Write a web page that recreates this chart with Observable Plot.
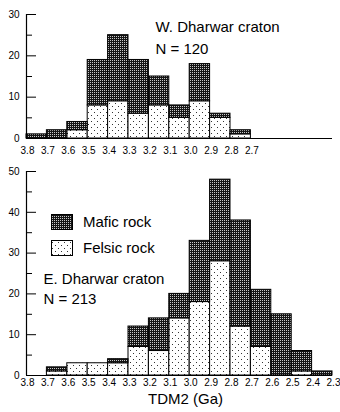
<!DOCTYPE html>
<html>
<head>
<meta charset="utf-8">
<script src="https://cdn.jsdelivr.net/npm/d3@7"></script>
<script src="https://cdn.jsdelivr.net/npm/@observablehq/plot@0.6"></script>
<style>
  html, body { margin: 0; padding: 0; background: #fff; }
  #chart { position: relative; width: 340px; height: 412px; font-family: "Liberation Sans", Arial, sans-serif; }
  #chart svg { display: block; }
</style>
</head>
<body>
<div id="chart"></div>
<script>
// ---- Data (bin left edges in Ga, counts) ----
const westBinStart = [3.8, 3.7, 3.6, 3.5, 3.4, 3.3, 3.2, 3.1, 3.0, 2.9, 2.8];
const westFelsic   = [0,   0,   2,   8,   9,   6,   8,   5,   9,   5,   1];
const westMafic    = [1,   2,   2,   11,  16,  13,  7,   3,   9,   1,   1];

const eastBinStart = [3.7, 3.6, 3.5, 3.4, 3.3, 3.2, 3.1, 3.0, 2.9, 2.8, 2.7, 2.6, 2.5, 2.4];
const eastFelsic   = [1,   3,   3,   3,   7,   6,   14,  18,  28,  12,  7,   0,   1,   0];
const eastMafic    = [1,   0,   0,   1,   5,   8,   6,   15,  20,  26,  14,  15,  5,   1];

const binWidth = 0.1;
const westTickLabels = [3.8, 3.7, 3.6, 3.5, 3.4, 3.3, 3.2, 3.1, 3.0, 2.9, 2.8, 2.7];
const eastTickLabels = [3.8, 3.7, 3.6, 3.5, 3.4, 3.3, 3.2, 3.1, 3.0, 2.9, 2.8, 2.7, 2.6, 2.5, 2.4, 2.3];
const westYMajor = [0, 10, 20, 30];
const westYMinor = [5, 15, 25];
const eastYMajor = [0, 10, 20, 30, 40, 50];
const eastYMinor = [5, 15, 25, 35, 45];

const westLabel = "W. Dharwar craton\nN = 120";
const eastLabel = "E. Dharwar craton\nN = 213";
const legendItems = ["Mafic rock", "Felsic rock"];
const xTitle = "TDM2 (Ga)";

const FONT = "Liberation Sans, Arial, sans-serif";
const xDomain = [3.8, 2.3];

function rows(starts, felsic, mafic) {
  return starts.map((s, i) => ({
    x1: s, x2: +(s - binWidth).toFixed(2),
    felsic: felsic[i], mafic: mafic[i], total: felsic[i] + mafic[i]
  }));
}

function addPatterns(svg, prefix) {
  const defs = d3.select(svg).insert("defs", ":first-child");
  const m = defs.append("pattern").attr("id", prefix + "mafic")
    .attr("patternUnits", "userSpaceOnUse").attr("width", 2).attr("height", 2);
  m.append("rect").attr("width", 2).attr("height", 2).attr("fill", "#151515");
  m.append("rect").attr("width", 1).attr("height", 1).attr("fill", "#c8c8c8");
  const f = defs.append("pattern").attr("id", prefix + "felsic")
    .attr("patternUnits", "userSpaceOnUse").attr("width", 6).attr("height", 6);
  f.append("rect").attr("width", 6).attr("height", 6).attr("fill", "#fff");
  f.append("rect").attr("x", 1).attr("y", 1).attr("width", 1).attr("height", 1).attr("fill", "#333");
  f.append("rect").attr("x", 4).attr("y", 4).attr("width", 1).attr("height", 1).attr("fill", "#333");
}

function panel({data, yDomain, yMajor, yMinor, tickLabels, height, marginTop, marginBottom, prefix, xTickPadding, extraMarks}) {
  const svg = Plot.plot({
    width: 340,
    height,
    marginLeft: 26,
    marginRight: 8,
    marginTop,
    marginBottom,
    style: {fontFamily: FONT, fontSize: "10px", color: "#000", background: "transparent"},
    x: {domain: xDomain, axis: null},
    y: {domain: yDomain, axis: null},
    marks: [
      Plot.rectY(data, {x1: "x1", x2: "x2", y1: 0, y2: "felsic",
        fill: `url(#${prefix}felsic)`, stroke: "#000", strokeWidth: 1}),
      Plot.rectY(data, {x1: "x1", x2: "x2", y1: "felsic", y2: "total",
        fill: `url(#${prefix}mafic)`, stroke: "#000", strokeWidth: 1}),
      Plot.ruleY([0], {stroke: "#000", strokeWidth: 1}),
      Plot.ruleX([xDomain[0]], {stroke: "#000", strokeWidth: 1.2}),
      Plot.axisY({ticks: yMajor, tickSize: -10, tickFormat: () => "", label: null, stroke: "#000"}),
      Plot.axisY({ticks: yMinor, tickSize: -6, tickFormat: () => "", label: null, stroke: "#000"}),
      Plot.axisY({ticks: yMajor, tickSize: 0, tickPadding: 7, tickFormat: d => String(d), label: null, fontSize: 10}),
      Plot.axisX({ticks: tickLabels, tickSize: 0, tickPadding: xTickPadding, label: null,
        tickFormat: d => d.toFixed(1), fontSize: 10, dx: 1}),
      ...extraMarks
    ]
  });
  addPatterns(svg, prefix);
  return svg;
}

const chart = document.getElementById("chart");

// ---- Top panel: W. Dharwar ----
const topSvg = panel({
  data: rows(westBinStart, westFelsic, westMafic),
  yDomain: [0, 30], yMajor: westYMajor, yMinor: westYMinor,
  tickLabels: westTickLabels,
  height: 160, marginTop: 14, marginBottom: 22, prefix: "w", xTickPadding: 8,
  extraMarks: [
    Plot.text([westLabel], {frameAnchor: "top-left", text: d => d, textAnchor: "start",
      lineAnchor: "top", dx: 129, dy: 2, fontSize: 15, lineHeight: 1.45, fill: "#000"})
  ]
});
topSvg.style.position = "absolute";
topSvg.style.left = "0px";
topSvg.style.top = "0px";
chart.appendChild(topSvg);

// ---- Bottom panel: E. Dharwar ----
const botSvg = panel({
  data: rows(eastBinStart, eastFelsic, eastMafic),
  yDomain: [0, 50], yMajor: eastYMajor, yMinor: eastYMinor,
  tickLabels: eastTickLabels,
  height: 252, marginTop: 11, marginBottom: 37, prefix: "e", xTickPadding: 3,
  extraMarks: [
    Plot.text([eastLabel], {frameAnchor: "top-left", text: d => d, textAnchor: "start",
      lineAnchor: "top", dx: 17, dy: 99, fontSize: 15, lineHeight: 1.3, fill: "#000"}),
    Plot.text([xTitle], {frameAnchor: "bottom", text: d => d, textAnchor: "middle",
      lineAnchor: "middle", dx: 6, dy: 24, fontSize: 15, fill: "#000"})
  ]
});
botSvg.style.position = "absolute";
botSvg.style.left = "0px";
botSvg.style.top = "160px";
chart.appendChild(botSvg);

// ---- Legend (inside bottom panel) ----
const lg = d3.select(botSvg).append("g")
  .attr("font-family", FONT).attr("font-size", 15).attr("text-anchor", "start");
legendItems.forEach((name, i) => {
  const y = 54 + i * 26;
  lg.append("rect").attr("x", 51.5).attr("y", y + 0.5).attr("width", 21).attr("height", 15)
    .attr("fill", `url(#e${i === 0 ? "mafic" : "felsic"})`).attr("stroke", "#000").attr("stroke-width", 1);
  lg.append("text").attr("x", 83).attr("y", y + 8).attr("dy", "0.35em")
    .attr("text-anchor", "start").attr("fill", "#000").text(name);
});
</script>
</body>
</html>
